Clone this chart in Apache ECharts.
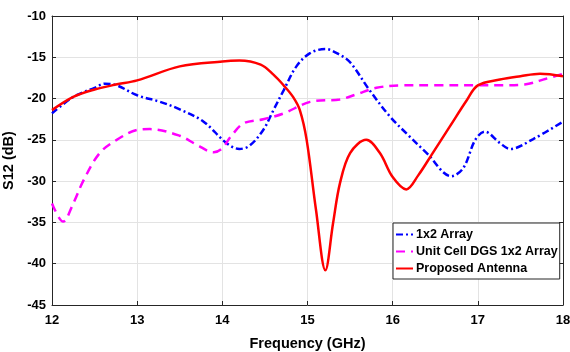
<!DOCTYPE html>
<html>
<head>
<meta charset="utf-8">
<script src="https://cdn.jsdelivr.net/npm/echarts@6/dist/echarts.min.js"></script>
<style>
  html, body {margin: 0; padding: 0; background: #fff;}
  #chart {width: 570px; height: 352px;}
</style>
</head>
<body>
<div id="chart"></div>
<script>
// S12 curves: [frequency GHz, S12 dB]
const arrayLine = [
  [12.0, -21.8], [12.25, -19.8], [12.5, -18.7], [12.62, -18.2], [12.76, -18.4],
  [13.0, -19.6], [13.27, -20.4], [13.5, -21.3], [13.78, -22.8], [14.05, -25.4],
  [14.2, -26.1], [14.32, -25.7], [14.48, -23.8], [14.6, -21.4], [14.72, -19.0],
  [14.87, -16.1], [15.03, -14.5], [15.21, -14.0], [15.38, -14.7], [15.5, -15.6],
  [15.73, -19.0], [15.97, -22.2], [16.18, -24.4], [16.4, -26.6], [16.69, -29.4],
  [16.83, -28.4], [16.97, -25.0], [17.08, -24.0], [17.26, -25.4], [17.38, -26.1],
  [17.65, -24.9], [18.0, -22.8]
]
const dgsLine = [
  [12.0, -32.7], [12.13, -34.9], [12.25, -32.7], [12.37, -29.9], [12.56, -26.6],
  [12.76, -25.0], [13.0, -23.8], [13.15, -23.7], [13.5, -24.5], [13.7, -25.6],
  [13.9, -26.5], [14.0, -26.0], [14.1, -24.6], [14.25, -23.0], [14.48, -22.5],
  [14.72, -21.8], [15.03, -20.4], [15.38, -20.1], [15.57, -19.5], [15.81, -18.7],
  [16.1, -18.4], [16.5, -18.4], [17.0, -18.4], [17.3, -18.4], [17.55, -18.3],
  [17.8, -17.6], [18.0, -17.0]
]
const proposedLine = [
  [12.0, -21.4], [12.25, -19.8], [12.5, -18.9], [12.75, -18.3], [13.0, -17.8],
  [13.5, -16.1], [14.0, -15.5], [14.2, -15.4], [14.45, -15.9],
  [14.6, -17.1], [14.72, -18.4], [14.83, -19.8], [14.91, -21.4], [14.99, -25.0],
  [15.1, -33.5], [15.21, -40.8], [15.3, -35.1], [15.38, -30.3], [15.5, -26.6],
  [15.69, -25.0], [15.85, -26.6], [16.0, -29.5], [16.16, -31.0], [16.3, -29.3],
  [16.47, -26.6], [16.67, -23.4], [16.87, -20.2], [17.0, -18.4], [17.26, -17.7],
  [17.5, -17.3], [17.73, -17.0], [18.0, -17.3]
]
const seriesNames = ['1x2 Array', 'Unit Cell DGS 1x2 Array', 'Proposed Antenna']

const font = 'Liberation Sans, Arial, sans-serif'
const axisColor = '#262626'
const gridColor = '#e3e3e3'

const chart = echarts.init(document.getElementById('chart'))

const baseAxis = {
  axisLine: {show: true, onZero: false, lineStyle: {color: axisColor, width: 1}},
  axisTick: {show: true, inside: true, length: 4, lineStyle: {color: axisColor}},
  splitLine: {show: false},
  axisLabel: {show: false}
}

const option = {
  animation: false,
  backgroundColor: '#fff',
  textStyle: {fontFamily: font},
  grid: {left: 52, right: 7, top: 16, bottom: 47, outerBoundsMode: 'none', containLabel: false},
  xAxis: [
    {
      ...baseAxis,
      type: 'value', min: 12, max: 18, interval: 1,
      name: 'Frequency (GHz)', nameLocation: 'middle', nameGap: 31,
      nameTextStyle: {color: '#000', fontSize: 14.5, fontWeight: 'bold', fontFamily: font},
      axisLabel: {show: true, color: '#000', fontSize: 13, fontWeight: 'bold', margin: 9, fontFamily: font},
      splitLine: {show: true, lineStyle: {color: gridColor, width: 1}}
    },
    {...baseAxis, type: 'value', min: 12, max: 18, interval: 1, position: 'top'}
  ],
  yAxis: [
    {
      ...baseAxis,
      type: 'value', min: -45, max: -10, interval: 5,
      name: 'S12 (dB)', nameLocation: 'middle', nameGap: 29,
      nameTextStyle: {color: '#000', fontSize: 14.5, fontWeight: 'bold', fontFamily: font},
      axisLabel: {show: true, color: '#000', fontSize: 13, fontWeight: 'bold', margin: 6, fontFamily: font},
      splitLine: {show: true, lineStyle: {color: gridColor, width: 1}}
    },
    {...baseAxis, type: 'value', min: -45, max: -10, interval: 5, position: 'right'}
  ],
  legend: {
    orient: 'vertical',
    left: 393, top: 223,
    padding: [5, 2, 4, 2],
    itemGap: 4,
    itemWidth: 17, itemHeight: 13,
    itemStyle: {opacity: 0},
    backgroundColor: '#fff',
    borderColor: axisColor, borderWidth: 1, borderRadius: 0,
    textStyle: {color: '#000', fontSize: 12.5, fontWeight: 'bold', fontFamily: font, padding: [0, 0, 0, -2]},
    data: seriesNames
  },
  series: [
    {name: seriesNames[0], data: arrayLine, color: '#0000ff',
      lineStyle: {type: [7, 3, 2, 3]}},
    {name: seriesNames[1], data: dgsLine, color: '#ff00ff',
      lineStyle: {type: [9, 6]}},
    {name: seriesNames[2], data: proposedLine, color: '#ff0000',
      lineStyle: {type: 'solid'}}
  ].map(obj => {
    return {
      ...obj,
      type: 'line',
      smooth: 0.35,
      symbol: 'none',
      xAxisIndex: 0, yAxisIndex: 0,
      lineStyle: {...obj.lineStyle, width: 2.5, color: obj.color}
    }
  })
}

chart.setOption(option)
</script>
</body>
</html>
